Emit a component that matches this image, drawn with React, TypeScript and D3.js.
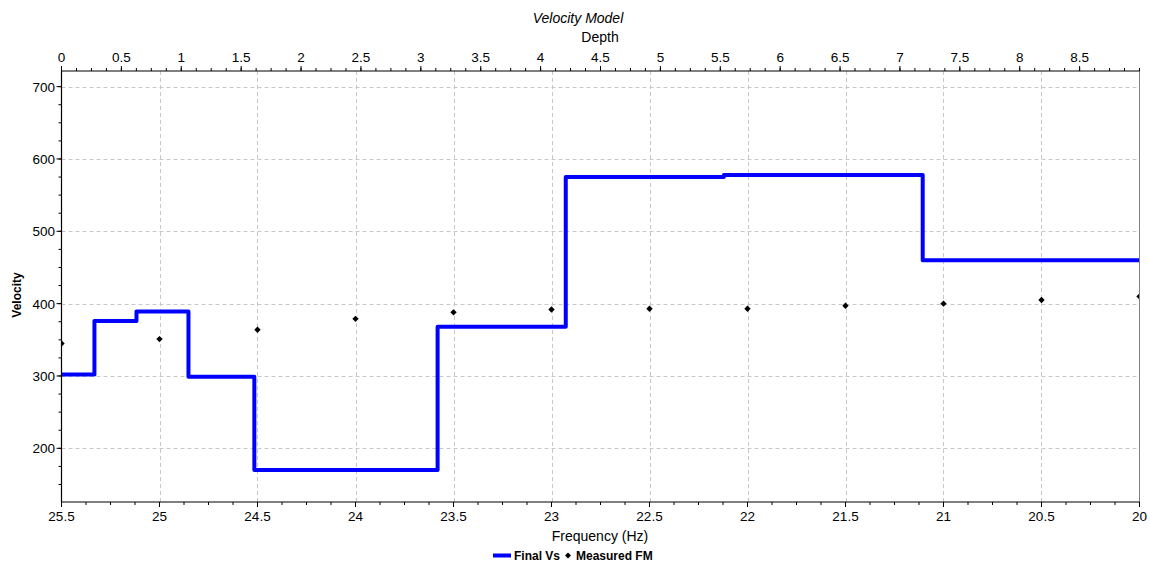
import React from "react";
import * as d3 from "d3";

// Layered velocity model (Final Vs) plotted against depth
const layerTopDepths = [0, 0.275, 0.626, 1.06, 1.61, 3.14, 4.21, 5.53, 7.19, 9.0];
const layerVelocities = [302, 376, 389, 299, 170, 368, 575, 578, 460, 460];

// Measured dispersion points (Measured FM) plotted against frequency
const measuredFrequencies = [25.5, 25, 24.5, 24, 23.5, 23, 22.5, 22, 21.5, 21, 20.5, 20];
const measuredVelocities = [345, 351, 364, 379, 388, 392, 393, 393, 397, 400, 405, 410];

// Axis tick values
const freqTicks = [25.5, 25, 24.5, 24, 23.5, 23, 22.5, 22, 21.5, 21, 20.5, 20];
const depthTicks = [0, 0.5, 1, 1.5, 2, 2.5, 3, 3.5, 4, 4.5, 5, 5.5, 6, 6.5, 7, 7.5, 8, 8.5];
const velocityTicks = [200, 300, 400, 500, 600, 700];

const W = 1150;
const H = 565;
const left = 61.5;
const right = 1139.5;
const top = 71;
const bottom = 502;
const FONT = "'Liberation Sans', Arial, sans-serif";

export default function App() {
  const xFreq = d3.scaleLinear().domain([25.5, 20]).range([left, right]);
  const xDepth = d3.scaleLinear().domain([0, 9]).range([left, right]);
  const y = d3.scaleLinear().domain([125.8, 721.6]).range([bottom, top]);

  const freqMinor = d3.range(0, 45).map((i) => 25.5 - i * 0.125).filter((v) => v >= 20);
  const depthMinor = d3.range(0, 73).map((i) => i * 0.125).filter((v) => v <= 9);
  const velMinor = d3.range(150, 725, 25);

  const stepLine = d3
    .line<number>()
    .x((_, i) => xDepth(layerTopDepths[i]))
    .y((v) => y(v))
    .curve(d3.curveStepAfter);

  const diamond = "M0,-3.2L3.2,0L0,3.2L-3.2,0Z";

  return (
    <svg
      width={W}
      height={H}
      style={{ position: "absolute", left: 0, top: 0, background: "#fff" }}
      fontFamily={FONT}
    >
      <defs>
        <clipPath id="plotClip">
          <rect x={left} y={top} width={right - left} height={bottom - top} />
        </clipPath>
      </defs>

      {/* grid */}
      <g stroke="#c8c8c8" strokeWidth={1} strokeDasharray="4,3">
        {velocityTicks.map((v) => (
          <line key={"gy" + v} x1={left} x2={right} y1={Math.round(y(v)) + 0.5} y2={Math.round(y(v)) + 0.5} />
        ))}
        {freqTicks.slice(1, -1).map((f) => (
          <line key={"gx" + f} x1={Math.round(xFreq(f)) + 0.5} x2={Math.round(xFreq(f)) + 0.5} y1={top} y2={bottom} />
        ))}
      </g>

      {/* Final Vs step line */}
      <g clipPath="url(#plotClip)">
        <path
          d={stepLine(layerVelocities) || ""}
          fill="none"
          stroke="#0000ff"
          strokeWidth={4}
          strokeLinejoin="round"
        />
        {measuredFrequencies.map((f, i) => (
          <path
            key={"m" + f}
            d={diamond}
            transform={`translate(${xFreq(f)},${y(measuredVelocities[i])})`}
            fill="#000"
          />
        ))}
      </g>

      {/* frame */}
      <line x1={right} x2={right} y1={top} y2={bottom} stroke="#808080" strokeWidth={1} />
      <line x1={left} x2={left} y1={top} y2={bottom} stroke="#000" strokeWidth={1.2} />
      <line x1={left} x2={right} y1={bottom} y2={bottom} stroke="#000" strokeWidth={1.2} />
      <line x1={left} x2={right} y1={top} y2={top} stroke="#000" strokeWidth={1.2} />

      {/* bottom axis: frequency */}
      <g stroke="#000" strokeWidth={1}>
        {freqMinor.map((f) => (
          <line key={"fm" + f} x1={xFreq(f)} x2={xFreq(f)} y1={bottom} y2={bottom + 3} />
        ))}
        {freqTicks.map((f) => (
          <line key={"ft" + f} x1={xFreq(f)} x2={xFreq(f)} y1={bottom} y2={bottom + 5} />
        ))}
      </g>
      <g fontSize={13.5} fill="#000" textAnchor="middle">
        {freqTicks.map((f) => (
          <text key={"fl" + f} x={xFreq(f)} y={521}>
            {d3.format("")(f)}
          </text>
        ))}
      </g>
      <text x={600} y={541} fontSize={14} textAnchor="middle" fill="#000">
        Frequency (Hz)
      </text>

      {/* top axis: depth */}
      <g stroke="#000" strokeWidth={1}>
        {depthMinor.map((d) => (
          <line key={"dm" + d} x1={xDepth(d)} x2={xDepth(d)} y1={top} y2={top - 3} />
        ))}
        {depthTicks.map((d) => (
          <line key={"dt" + d} x1={xDepth(d)} x2={xDepth(d)} y1={top} y2={top - 5} />
        ))}
      </g>
      <g fontSize={13.5} fill="#000" textAnchor="middle">
        {depthTicks.map((d) => (
          <text key={"dl" + d} x={xDepth(d)} y={62}>
            {d3.format("")(d)}
          </text>
        ))}
      </g>
      <text x={600} y={42} fontSize={14} textAnchor="middle" fill="#000">
        Depth
      </text>
      <text x={578} y={23} fontSize={14} fontStyle="italic" textAnchor="middle" fill="#000">
        Velocity Model
      </text>

      {/* left axis: velocity */}
      <g stroke="#000" strokeWidth={1}>
        {velMinor.map((v) => (
          <line key={"vm" + v} x1={left} x2={left - 3} y1={y(v)} y2={y(v)} />
        ))}
        {velocityTicks.map((v) => (
          <line key={"vt" + v} x1={left} x2={left - 5} y1={y(v)} y2={y(v)} />
        ))}
      </g>
      <g fontSize={13.5} fill="#000" textAnchor="end">
        {velocityTicks.map((v) => (
          <text key={"vl" + v} x={55} y={y(v) + 5}>
            {v}
          </text>
        ))}
      </g>
      <text
        transform="translate(21,295) rotate(-90)"
        fontSize={12}
        fontWeight="bold"
        textAnchor="middle"
        fill="#000"
      >
        Velocity
      </text>

      {/* legend */}
      <line x1={493} x2={511} y1={555.5} y2={555.5} stroke="#0000ff" strokeWidth={4} />
      <text x={514} y={560} fontSize={12} fontWeight="bold" fill="#000">
        Final Vs
      </text>
      <path d="M0,-3L3,0L0,3L-3,0Z" transform="translate(568,555.5)" fill="#000" />
      <text x={576} y={560} fontSize={12} fontWeight="bold" fill="#000">
        Measured FM
      </text>
    </svg>
  );
}
